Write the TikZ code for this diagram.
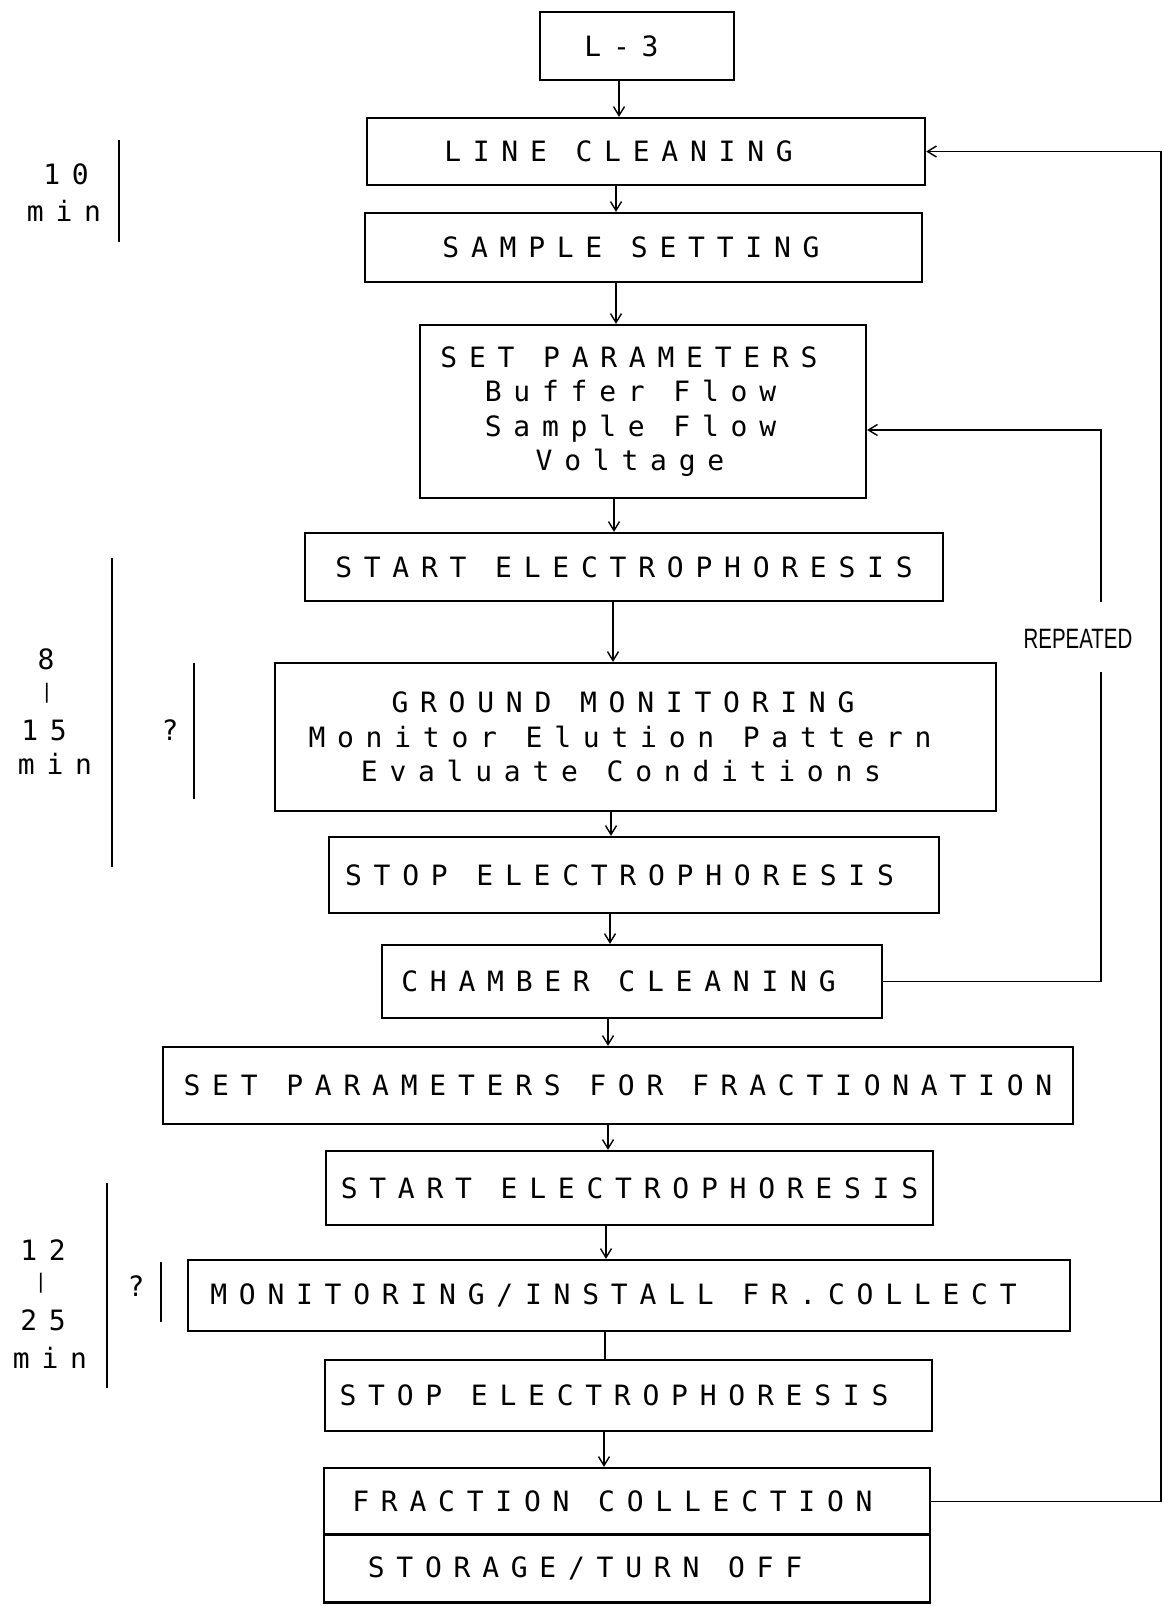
\documentclass[tikz,border=0pt]{standalone}
\usepackage{fontspec}
\usepackage{graphicx}
\usetikzlibrary{arrows.meta}
\newfontfamily\tw[LetterSpace=42]{DejaVu Sans Mono}
\newfontfamily\rp{Liberation Sans}
\newcommand\sh[1]{\kern#1pt}
\begin{document}
\begin{tikzpicture}[x=1pt,y=-1pt,
  box/.style={draw, line width=2.2pt, inner sep=0pt, font=\tw\fontsize{28}{34.5}\selectfont},
  mbox/.style={box, align=center},
  conn/.style={line width=1.6pt},
  arr/.style={conn, -{Straight Barb[length=9pt,width=11pt,line width=1.4pt]}},
  ann/.style={inner sep=0pt, font=\tw\fontsize{28}{34}\selectfont},
  bar/.style={line width=2pt}]
\useasboundingbox (0,0) rectangle (1164,1606);
\fill[white] (0,0) rectangle (1164,1606);

\node[box, minimum width=194pt, minimum height=68pt] (l3) at (637,46) {L-3\sh{31}};
\node[box, minimum width=558pt, minimum height=67pt] (lc) at (646,151.5) {LINE CLEANING\sh{55}};
\node[box, minimum width=557pt, minimum height=69pt] (ss) at (643.5,247.5) {SAMPLE SETTING\sh{25}};
\node[mbox, minimum width=446pt, minimum height=173pt] (sp) at (643,411.5) {SET PARAMETERS\sh{28}\\Buffer Flow\sh{25}\\Sample Flow\sh{25}\\Voltage\sh{26}};
\node[box, minimum width=638pt, minimum height=68pt] (st1) at (624,567) {START ELECTROPHORESIS};
\node[mbox, minimum width=721pt, minimum height=148pt] (gm) at (635.5,737) {GROUND MONITORING\sh{25}\\Monitor Elution Pattern\sh{31}\\Evaluate Conditions\sh{29}};
\node[box, minimum width=610pt, minimum height=76pt] (sp1) at (634,875) {STOP ELECTROPHORESIS\sh{29}};
\node[box, minimum width=500pt, minimum height=73pt] (cc) at (632,981.5) {CHAMBER CLEANING\sh{27}};
\node[box, minimum width=910pt, minimum height=77pt] (sf) at (618,1085.5) {SET PARAMETERS FOR FRACTIONATION};
\node[box, minimum width=607pt, minimum height=74pt] (st2) at (629.5,1188) {START ELECTROPHORESIS};
\node[box, minimum width=882pt, minimum height=71pt] (mo) at (629,1295.5) {MONITORING/INSTALL FR.COLLECT\sh{31}};
\node[box, minimum width=607pt, minimum height=71pt] (sp2) at (628.5,1395.5) {STOP ELECTROPHORESIS\sh{29}};
\node[box, minimum width=606pt, minimum height=67pt] (fc) at (627,1501.5) {FRACTION COLLECTION\sh{29}};
\node[box, minimum width=606pt, minimum height=68pt] (so) at (627,1568.5) {STORAGE/TURN OFF\sh{84}};

\draw[arr] (l3.south -| 619,0) -- (lc.north -| 619,0);
\draw[arr] (lc.south -| 616,0) -- (ss.north -| 616,0);
\draw[arr] (ss.south -| 616,0) -- (sp.north -| 616,0);
\draw[arr] (sp.south -| 614,0) -- (st1.north -| 614,0);
\draw[arr] (st1.south -| 613,0) -- (gm.north -| 613,0);
\draw[arr] (gm.south -| 611,0) -- (sp1.north -| 611,0);
\draw[arr] (sp1.south -| 610,0) -- (cc.north -| 610,0);
\draw[arr] (cc.south -| 608,0) -- (sf.north -| 608,0);
\draw[arr] (sf.south -| 608,0) -- (st2.north -| 608,0);
\draw[arr] (st2.south -| 606,0) -- (mo.north -| 606,0);
\draw[conn] (mo.south -| 605,0) -- (sp2.north -| 605,0);
\draw[arr] (sp2.south -| 604,0) -- (fc.north -| 604,0);

\coordinate (rt) at (1161,0);
\draw[arr] (fc.east) -- (fc.east -| rt) -- (lc.east -| rt) -- (lc.east);

\coordinate (rx) at (1101,0);
\node[inner sep=0pt, font=\rp\fontsize{28}{30}\selectfont] (rep) at (1078,639) {\scalebox{0.73}[1]{REPEATED}};
\draw[conn] (cc.east) -- (cc.east -| rx) -- (rx |- 0,672);
\draw[arr] (rx |- 0,602) -- (rx |- 0,430) -- (sp.east |- 0,430);

\node[ann] (t10) at (66,174) {10};
\node[ann] (m10) at (64,211) {min};
\draw[bar] (119,140) -- (119,242);

\node[ann] (t8) at (46,659) {8};
\node[ann, font=\tw\fontsize{20}{20}\selectfont] (d8) at (47,693) {|};
\node[ann] (t15) at (44,730) {15};
\node[ann] (m15) at (55,764) {min};
\draw[bar] (112,558) -- (112,867);
\node[ann] (q1) at (170,730) {?};
\draw[bar] (194,663) -- (194,799);

\node[ann] (t12) at (43,1250) {12};
\node[ann, font=\tw\fontsize{20}{20}\selectfont] (d12) at (41,1283) {|};
\node[ann] (t25) at (43,1320) {25};
\node[ann] (m25) at (50,1358) {min};
\draw[bar] (107,1183) -- (107,1388);
\node[ann] (q2) at (136,1286) {?};
\draw[bar] (161,1262) -- (161,1322);
\end{tikzpicture}
\end{document}
